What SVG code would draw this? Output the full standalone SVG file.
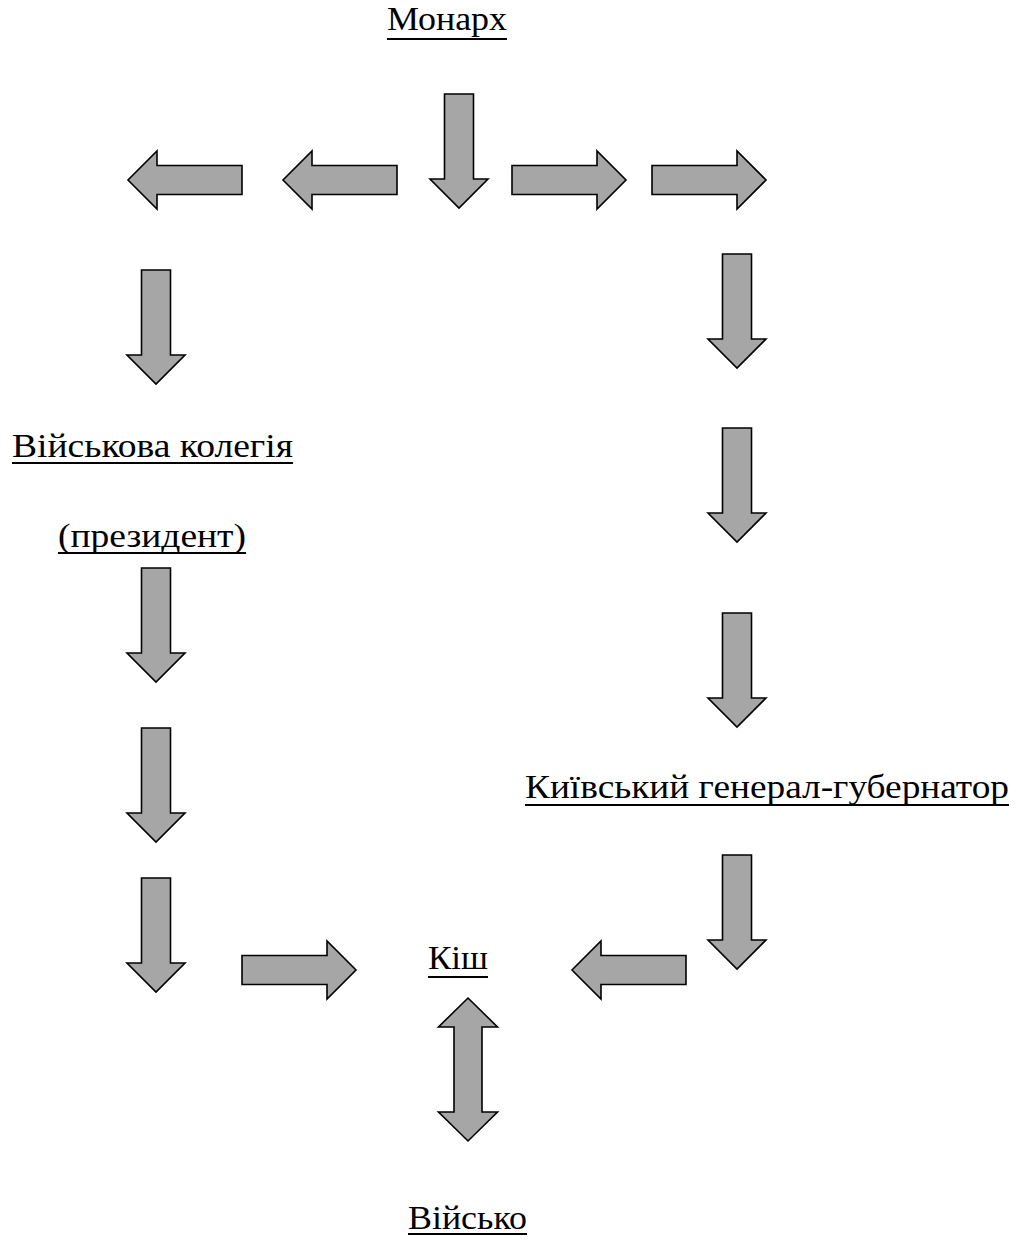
<svg xmlns="http://www.w3.org/2000/svg" xmlns:xlink="http://www.w3.org/1999/xlink" width="1023" height="1240" viewBox="0 0 1023 1240">
<style>
text{font-family:'Liberation Serif','Times New Roman',serif;font-size:33px;fill:#000}
.ul{stroke:#000;stroke-width:2}
.arr{fill:#a6a6a6;stroke:#000;stroke-width:1.6;stroke-linejoin:miter}
</style>
<defs>
<path id="down" d="M-14.5,0 H14.5 V85 H29 L0,114 L-29,85 H-14.5 Z"/>
</defs>
<rect width="1023" height="1240" fill="#fff"/>
<g id="connectors" class="arr">
<use xlink:href="#down" transform="translate(459,94)"/>
<use xlink:href="#down" transform="translate(242,180) rotate(90)"/>
<use xlink:href="#down" transform="translate(397,180) rotate(90)"/>
<use xlink:href="#down" transform="translate(512,180) rotate(-90)"/>
<use xlink:href="#down" transform="translate(652,180) rotate(-90)"/>
<use xlink:href="#down" transform="translate(156,270)"/>
<use xlink:href="#down" transform="translate(156,568)"/>
<use xlink:href="#down" transform="translate(156,728)"/>
<use xlink:href="#down" transform="translate(156,878)"/>
<use xlink:href="#down" transform="translate(737,254)"/>
<use xlink:href="#down" transform="translate(737,428)"/>
<use xlink:href="#down" transform="translate(737,613)"/>
<use xlink:href="#down" transform="translate(737,855)"/>
<use xlink:href="#down" transform="translate(242,970) rotate(-90)"/>
<use xlink:href="#down" transform="translate(686,970) rotate(90)"/>
<path d="M468,998 L497.5,1027 H482 V1112 H497.5 L468,1141 L438.5,1112 H454 V1027 H438.5 Z"/>
</g>
<g id="monarch">
<text x="387" y="30" textLength="120" lengthAdjust="spacingAndGlyphs">Монарх</text>
<line class="ul" x1="387" y1="39" x2="507" y2="39"/>
</g>
<g id="military-college">
<text x="12" y="457" textLength="281" lengthAdjust="spacingAndGlyphs">Військова колегія</text>
<line class="ul" x1="12" y1="463" x2="293" y2="463"/>
<text x="58" y="547" textLength="188" lengthAdjust="spacingAndGlyphs">(президент)</text>
<line class="ul" x1="58" y1="553" x2="246" y2="553"/>
</g>
<g id="governor">
<text x="525" y="798" textLength="484" lengthAdjust="spacingAndGlyphs">Київський генерал-губернатор</text>
<line class="ul" x1="525" y1="805" x2="1009" y2="805"/>
</g>
<g id="kish">
<text x="428" y="969" textLength="60" lengthAdjust="spacingAndGlyphs">Кіш</text>
<line class="ul" x1="428" y1="977" x2="488" y2="977"/>
</g>
<g id="army">
<text x="408" y="1229" textLength="119" lengthAdjust="spacingAndGlyphs">Військо</text>
<line class="ul" x1="408" y1="1234" x2="527" y2="1234"/>
</g>
</svg>
